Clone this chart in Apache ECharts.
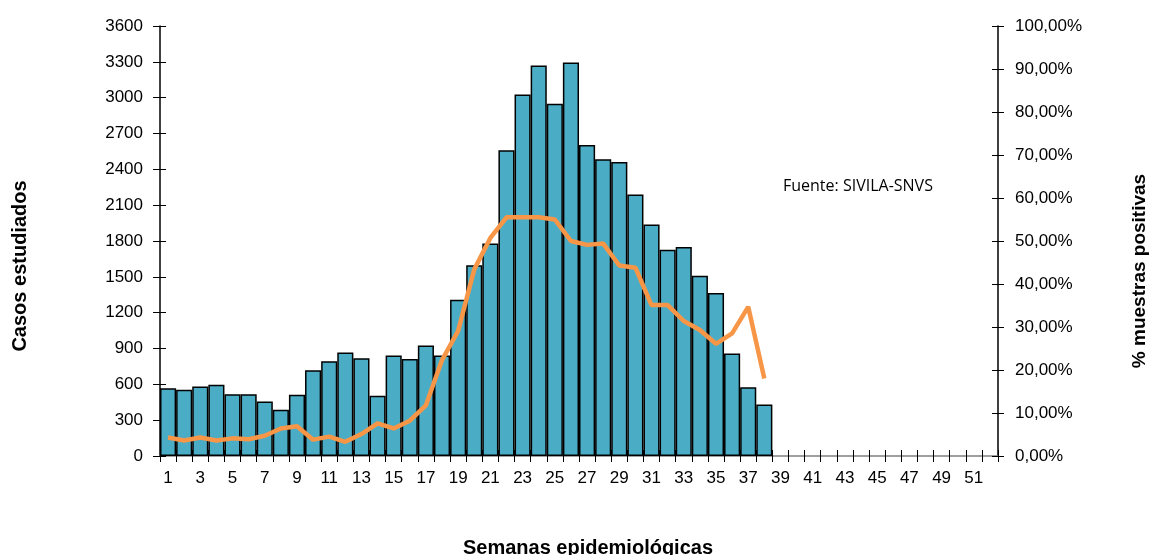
<!DOCTYPE html>
<html>
<head>
<meta charset="utf-8">
<script src="https://cdn.jsdelivr.net/npm/echarts@6/dist/echarts.min.js"></script>
<style>
html,body{margin:0;padding:0;background:#fff;}
#c{width:1151px;height:555px;}
</style>
</head>
<body>
<div id="c"></div>
<script>
var weeks = [];
for (var i = 1; i <= 52; i++) weeks.push(String(i));

var casos = [568, 554, 582, 596, 518, 518, 457, 387, 512, 718,
             794, 866, 819, 504, 841, 813, 925, 841, 1309, 1598,
             1779, 2559, 3027, 3269, 2949, 3294, 2604, 2484, 2462, 2189,
             1938, 1727, 1749, 1510, 1364, 858, 576, 432,
             null, null, null, null, null, null, null, null, null, null, null, null, null, null];

var positivos = [4.3, 3.6, 4.3, 3.6, 4.1, 3.9, 4.7, 6.4, 6.9, 3.8,
                 4.5, 3.3, 5.1, 7.6, 6.4, 8.2, 11.8, 22.3, 29.1, 43.4,
                 50.7, 55.5, 55.5, 55.5, 55.0, 50.0, 49.1, 49.4, 44.3, 43.8,
                 35.1, 35.1, 31.4, 29.3, 26.1, 28.5, 34.7, 18.0,
                 null, null, null, null, null, null, null, null, null, null, null, null, null, null];

var leftTicks = {min: 0, max: 3600, interval: 300};
var rightTicks = {min: 0, max: 100, interval: 10};

var font = 'Liberation Sans, Arial, sans-serif';
var chart = echarts.init(document.getElementById('c'));

function pct(v){ return v.toFixed(2).replace('.', ',') + '%'; }
function plain(v){ return String(v); }

chart.setOption({
  animation: false,
  backgroundColor: '#fff',
  grid: {left: 160, right: 153, top: 26, bottom: 99, containLabel: false},
  xAxis: [{
    type: 'category', data: weeks, boundaryGap: true,
    axisLine: {show: true, lineStyle: {color: '#808080', width: 1.5}},
    axisTick: {show: true, inside: false, length: 6, lineStyle: {color: '#000'}, interval: 0},
    axisLabel: {interval: 1, margin: 14, color: '#000', fontSize: 17, fontFamily: font},
    splitLine: {show: false}
  }, {
    type: 'category', data: weeks, boundaryGap: true, position: 'bottom',
    axisLine: {show: false},
    axisTick: {show: true, inside: true, length: 6, lineStyle: {color: '#000'}, interval: 0},
    axisLabel: {show: false},
    splitLine: {show: false}
  }],
  yAxis: [{
    type: 'value', position: 'left',
    min: leftTicks.min, max: leftTicks.max, interval: leftTicks.interval,
    axisLine: {show: true, lineStyle: {color: '#000', width: 1.5}},
    axisTick: {show: true, length: 7, lineStyle: {color: '#000'}},
    axisLabel: {margin: 17, color: '#000', fontSize: 17, fontFamily: font, formatter: plain},
    splitLine: {show: false}
  }, {
    type: 'value', position: 'right',
    min: rightTicks.min, max: rightTicks.max, interval: rightTicks.interval,
    axisLine: {show: true, lineStyle: {color: '#000', width: 1.5}},
    axisTick: {show: true, length: 6, lineStyle: {color: '#000'}},
    axisLabel: {margin: 17, color: '#000', fontSize: 17, fontFamily: font, formatter: pct},
    splitLine: {show: false}
  }, {
    type: 'value', position: 'left',
    min: leftTicks.min, max: leftTicks.max, interval: leftTicks.interval,
    axisLine: {show: false},
    axisTick: {show: true, inside: true, length: 6, lineStyle: {color: '#000'}},
    axisLabel: {show: false}, splitLine: {show: false}
  }, {
    type: 'value', position: 'right',
    min: rightTicks.min, max: rightTicks.max, interval: rightTicks.interval,
    axisLine: {show: false},
    axisTick: {show: true, inside: true, length: 6, lineStyle: {color: '#000'}},
    axisLabel: {show: false}, splitLine: {show: false}
  }],
  graphic: [
    {type: 'text', x: 20, y: 266, rotation: Math.PI / 2,
     style: {text: 'Casos estudiados', font: 'bold 20px ' + font, fill: '#000', textAlign: 'center', textVerticalAlign: 'middle'}},
    {type: 'text', x: 1140, y: 271, rotation: Math.PI / 2,
     style: {text: '% muestras positivas', font: 'bold 19px ' + font, fill: '#000', textAlign: 'center', textVerticalAlign: 'middle'}},
    {type: 'text', x: 588, y: 548,
     style: {text: 'Semanas epidemiológicas', font: 'bold 20px ' + font, fill: '#000', textAlign: 'center', textVerticalAlign: 'middle'}},
    {type: 'text', x: 783, y: 186,
     style: {text: 'Fuente: SIVILA-SNVS', font: '16px "Open Sans", sans-serif', fill: '#000', textAlign: 'left', textVerticalAlign: 'middle'}}
  ],
  series: [{
    name: 'Casos estudiados', type: 'bar', xAxisIndex: 0, yAxisIndex: 0,
    data: casos, barCategoryGap: '0%',
    itemStyle: {color: '#4BACC6', borderColor: '#000', borderWidth: 1.5}
  }, {
    name: '% muestras positivas', type: 'line', xAxisIndex: 0, yAxisIndex: 1,
    data: positivos, symbol: 'none', connectNulls: false,
    lineStyle: {color: '#F79646', width: 4.5}, itemStyle: {color: '#F79646'}
  }]
});
</script>
</body>
</html>
